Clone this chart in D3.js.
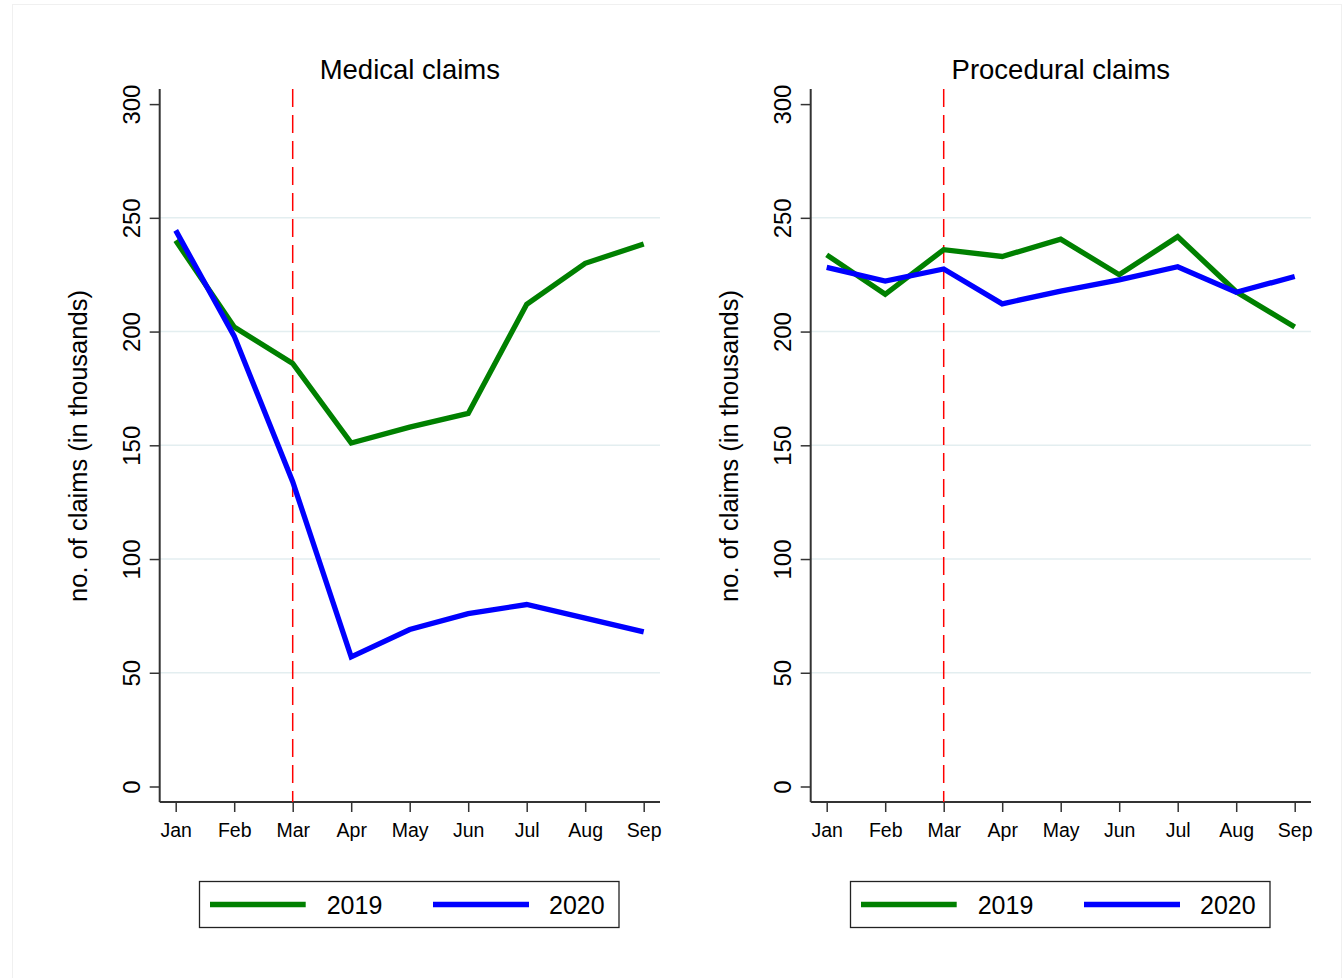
<!DOCTYPE html>
<html>
<head>
<meta charset="utf-8">
<script src="https://cdn.jsdelivr.net/npm/d3@7"></script>
<style>
  html, body { margin: 0; padding: 0; background: #ffffff; }
  svg { display: block; }
  text { font-family: "Liberation Sans", Arial, sans-serif; fill: #000; }
</style>
</head>
<body>
<svg id="chart" width="1342" height="978"></svg>
<script>
const months = ["Jan", "Feb", "Mar", "Apr", "May", "Jun", "Jul", "Aug", "Sep"];
const yTicks = [0, 50, 100, 150, 200, 250, 300];
const gridTicks = [50, 100, 150, 200, 250];
const seriesNames = ["2019", "2020"];
const seriesColors = ["#008000", "#0000ff"];
const panelTitles = ["Medical claims", "Procedural claims"];
const yAxisTitle = "no. of claims (in thousands)";
const markerMonth = "Mar";

const medical2019 = [240, 202, 186, 151, 158, 164, 212, 230, 238.5];
const medical2020 = [244.5, 198, 134, 57, 69, 76, 80, 74, 68];
const procedural2019 = [233.7, 216.4, 236, 233, 240.6, 225, 241.7, 217.5, 202];
const procedural2020 = [228.2, 222.2, 227.5, 212.2, 217.8, 222.7, 228.5, 217.3, 224.2];

const panels = [
  { title: panelTitles[0], series: [medical2019, medical2020] },
  { title: panelTitles[1], series: [procedural2019, procedural2020] }
];

const svg = d3.select("#chart");

// faint outer frame
svg.append("rect")
  .attr("x", 12.5).attr("y", 4.5).attr("width", 1329).attr("height", 980)
  .attr("fill", "none").attr("stroke", "#f0f0f0").attr("stroke-width", 1);

const panelOffset = 651;
const axisLeft = 159.7, axisRight = 660, axisTop = 89, axisBottom = 802;

panels.forEach((p, i) => {
  const ox = i * panelOffset;
  const g = svg.append("g").attr("transform", `translate(${ox},0)`);

  const x = d3.scalePoint().domain(months).range([175.7, 643.7]);
  const y = d3.scaleLinear().domain([0, 300]).range([786.5, 104.1]);

  // gridlines
  g.append("g").selectAll("line").data(gridTicks).join("line")
    .attr("x1", axisLeft).attr("x2", axisRight)
    .attr("y1", d => y(d)).attr("y2", d => y(d))
    .attr("stroke", "#e3eef0").attr("stroke-width", 1.5);

  // y axis
  const yAxis = g.append("g").attr("transform", `translate(${axisLeft},0)`)
    .call(d3.axisLeft(y).tickValues(yTicks).tickSize(10).tickPadding(0).tickFormat(d3.format("d")));
  yAxis.select(".domain").attr("d", `M0,${axisTop}V${axisBottom}`).attr("stroke", "#333").attr("stroke-width", 2);
  yAxis.selectAll(".tick line").attr("stroke", "#333").attr("stroke-width", 1.5);
  yAxis.selectAll(".tick text")
    .attr("x", 0).attr("dy", null)
    .attr("text-anchor", "middle")
    .attr("transform", "translate(-28.5,0) rotate(-90)")
    .attr("dominant-baseline", "central")
    .style("font-size", "24px")
    .style("font-family", "Liberation Sans, Arial, sans-serif")
    .attr("fill", "#000");

  // x axis
  const xAxis = g.append("g").attr("transform", `translate(0,${axisBottom})`)
    .call(d3.axisBottom(x).tickSize(10).tickPadding(11));
  xAxis.select(".domain").attr("d", `M${axisLeft},0H${axisRight}`).attr("stroke", "#333").attr("stroke-width", 2);
  xAxis.selectAll(".tick line").attr("stroke", "#333").attr("stroke-width", 1.5);
  xAxis.selectAll(".tick text")
    .style("font-size", "19.5px")
    .style("font-family", "Liberation Sans, Arial, sans-serif")
    .attr("fill", "#000");

  // marker line
  g.append("line")
    .attr("x1", x(markerMonth)).attr("x2", x(markerMonth))
    .attr("y1", axisTop).attr("y2", axisBottom)
    .attr("stroke", "#ff0000").attr("stroke-width", 1.5)
    .attr("stroke-dasharray", "18,8");

  // series lines
  const line = d3.line().x((d, k) => x(months[k])).y(d => y(d));
  p.series.forEach((vals, s) => {
    g.append("path").datum(vals)
      .attr("d", line)
      .attr("fill", "none")
      .attr("stroke", seriesColors[s])
      .attr("stroke-width", 5.3)
      .attr("stroke-linejoin", "miter")
      .attr("stroke-linecap", "butt");
  });

  // title
  g.append("text")
    .attr("x", (axisLeft + axisRight) / 2).attr("y", 79)
    .attr("text-anchor", "middle")
    .style("font-size", "27.5px")
    .text(p.title);

  // y axis title
  g.append("text")
    .attr("transform", `translate(78,446) rotate(-90)`)
    .attr("text-anchor", "middle")
    .attr("dominant-baseline", "central")
    .style("font-size", "25.5px")
    .text(yAxisTitle);

  // legend
  const lg = g.append("g");
  lg.append("rect")
    .attr("x", 199.5).attr("y", 881.5).attr("width", 419.5).attr("height", 46)
    .attr("fill", "#fff").attr("stroke", "#222").attr("stroke-width", 1.3);
  const legendItems = [
    { x1: 210, x2: 305.7, tx: 326.7 },
    { x1: 433, x2: 529, tx: 549 }
  ];
  seriesNames.forEach((name, s) => {
    const it = legendItems[s];
    lg.append("line")
      .attr("x1", it.x1).attr("x2", it.x2).attr("y1", 904.5).attr("y2", 904.5)
      .attr("stroke", seriesColors[s]).attr("stroke-width", 5.3);
    lg.append("text")
      .attr("x", it.tx).attr("y", 913.5)
      .style("font-size", "25px")
      .text(name);
  });
});
</script>
</body>
</html>
